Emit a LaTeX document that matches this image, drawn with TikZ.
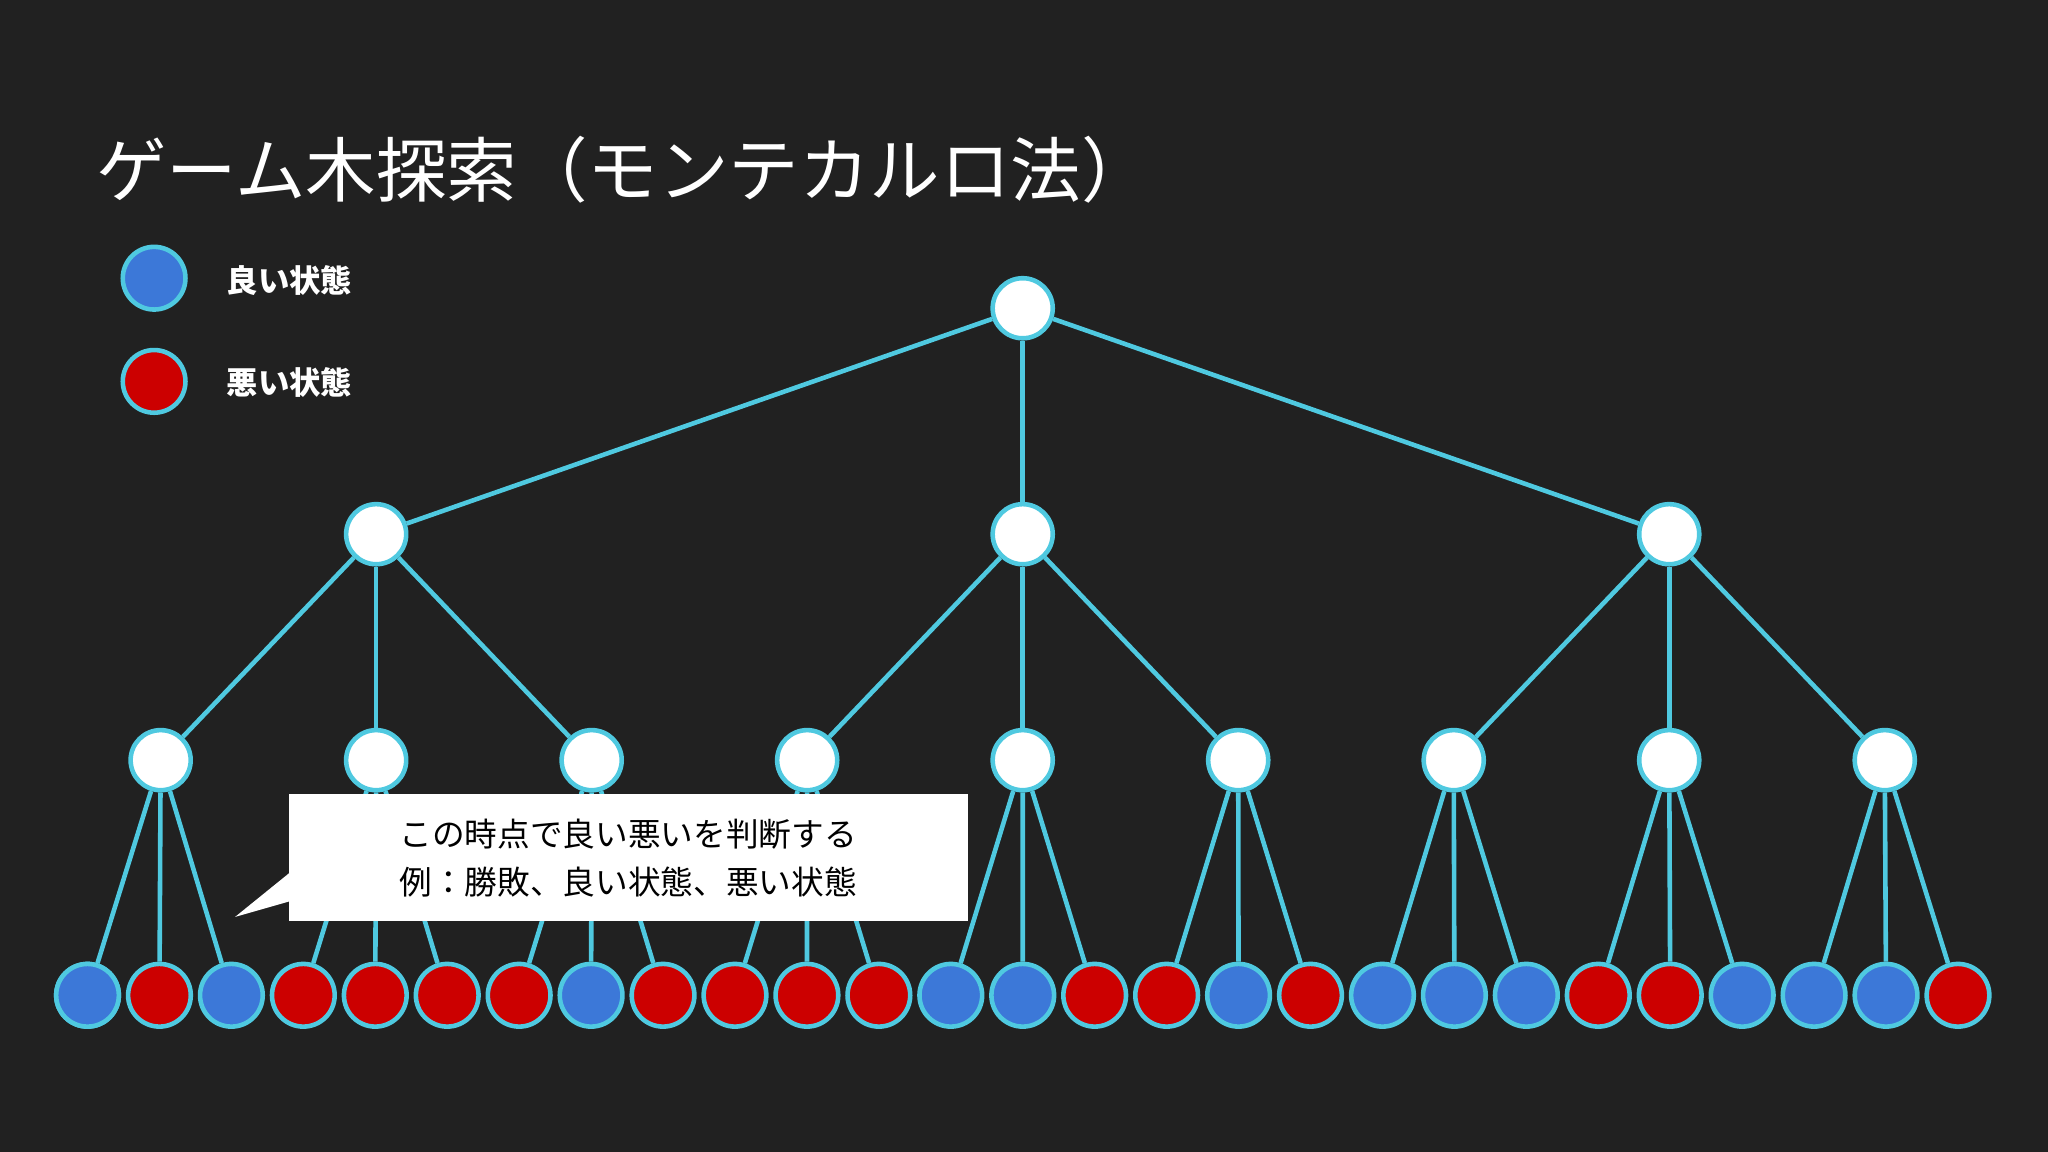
\documentclass[tikz,border=0pt]{standalone}
\usepackage{fontspec}
\setmainfont{Noto Sans CJK JP}
\definecolor{bg}{HTML}{212121}
\definecolor{cy}{HTML}{4FC9E0}
\definecolor{gb}{HTML}{3C78D8}
\definecolor{br}{HTML}{CC0000}
\begin{document}
\begin{tikzpicture}[x=1pt,y=-1pt,
  nd/.style={circle,draw=cy,line width=3.5pt,minimum size=46pt,inner sep=0pt,fill=white},
  lf/.style={circle,draw=cy,line width=3.5pt,minimum size=48pt,inner sep=0pt},
  ed/.style={draw=cy,line width=3.5pt}]
\fill[bg] (0,0) rectangle (1568,882);
\useasboundingbox (0,0) rectangle (1568,882);
\node[anchor=west,text=white,font=\fontsize{54}{60}\selectfont] (title) at (70,130) {ゲーム木探索（モンテカルロ法）};
\node[lf,fill=gb] (lg1) at (118,213) {};
\node[lf,fill=br] (lg2) at (118,292) {};
\node[anchor=west,text=white,font=\bfseries\fontsize{24}{28}\selectfont] (lt1) at (170,215) {良い状態};
\node[anchor=west,text=white,font=\bfseries\fontsize{24}{28}\selectfont] (lt2) at (170,293) {悪い状態};
\node[nd] (r) at (783,236) {};
\foreach \i/\x in {1/288,2/783,3/1278}{\node[nd] (a\i) at (\x,409) {}; \draw[ed] (r) -- (a\i);}
\foreach \j in {1,...,9}{
  \pgfmathtruncatemacro{\p}{int((\j-1)/3)+1}
  \node[nd] (b\j) at ({123+165*(\j-1)},582) {};
  \draw[ed] (a\p) -- (b\j);}
\foreach \k/\c in {1/gb,2/br,3/gb,4/br,5/br,6/br,7/br,8/gb,9/br,10/br,11/br,12/br,13/gb,14/gb,15/br,16/br,17/gb,18/br,19/gb,20/gb,21/gb,22/br,23/br,24/gb,25/gb,26/gb,27/br}{
  \pgfmathtruncatemacro{\p}{int((\k-1)/3)+1}
  \node[lf,fill=\c] (c\k) at ({67+55.08*(\k-1)},762) {};
  \draw[ed] (b\p) -- (c\k);}
\node[lf,fill=gb] at (c1) {};
\fill[white] (221,608) rectangle (741,705);
\fill[white] (222,668) -- (180,702) -- (222,690) -- cycle;
\node[align=center,font=\fontsize{25}{37}\selectfont,text=black] (cap) at (481,657) {この時点で良い悪いを判断する\\例：勝敗、良い状態、悪い状態};
\end{tikzpicture}
\end{document}
